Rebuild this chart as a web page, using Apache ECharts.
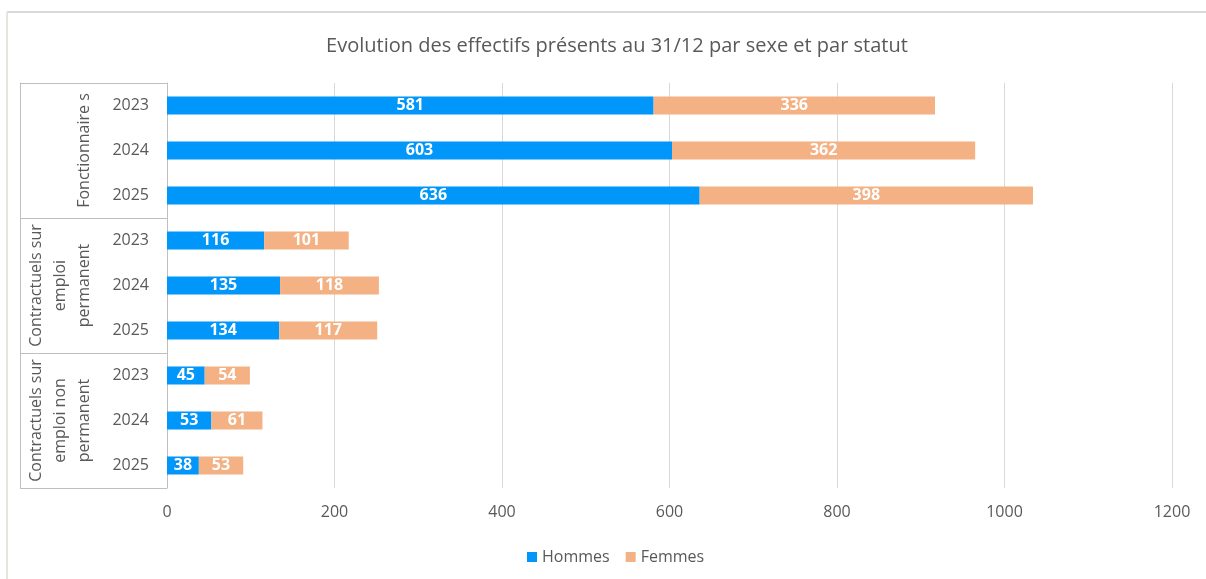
<!DOCTYPE html>
<html>
<head>
<meta charset="utf-8">
<script src="https://cdn.jsdelivr.net/npm/echarts@6/dist/echarts.min.js"></script>
<style>
  html, body { margin: 0; padding: 0; background: #fff; }
  #chart { width: 1206px; height: 579px; }
</style>
</head>
<body>
<div id="chart"></div>
<script>
const years = ['2023', '2024', '2025', '2023', '2024', '2025', '2023', '2024', '2025']
const groups = ['Fonctionnaire s', 'Contractuels sur\nemploi\npermanent', 'Contractuels sur\nemploi non\npermanent']
const hommes = [581, 603, 636, 116, 135, 134, 45, 53, 38]
const femmes = [336, 362, 398, 101, 118, 117, 54, 61, 53]

const grey = '#595959'
const font = 'Open Sans'

const chart = echarts.init(document.getElementById('chart'))
chart.setOption({
  textStyle: { fontFamily: font },
  title: {
    text: 'Evolution des effectifs présents au 31/12 par sexe et par statut',
    left: 612, top: 31, textAlign: 'center',
    textStyle: { fontSize: 20, fontWeight: 'normal', color: grey, fontFamily: font }
  },
  legend: {
    data: ['Hommes', 'Femmes'],
    bottom: 9, left: 522,
    icon: 'rect', itemWidth: 10, itemHeight: 10, itemGap: 16,
    textStyle: { fontSize: 16, color: grey, fontFamily: font }
  },
  grid: { left: 167, right: 34, top: 83, bottom: 91 },
  xAxis: {
    type: 'value', min: 0, max: 1200, interval: 200,
    axisLine: { show: false }, axisTick: { show: false },
    splitLine: { lineStyle: { color: '#d9d9d9' } },
    axisLabel: { fontSize: 16, color: grey, margin: 16, formatter: v => String(v) }
  },
  yAxis: [
    {
      type: 'category', data: years, inverse: true,
      axisLine: { lineStyle: { color: '#bfbfbf' } },
      axisTick: { show: false },
      axisLabel: { fontSize: 16, color: grey, margin: 18 }
    },
    {
      type: 'category', data: groups, inverse: true, position: 'left',
      axisLine: { show: false },
      axisTick: { show: true, interval: 0, length: 147, lineStyle: { color: '#bfbfbf' } },
      axisLabel: { rotate: 90, interval: 0, fontSize: 16, lineHeight: 24, color: grey, margin: 71, align: 'center' }
    },
    {
      type: 'category', data: groups, inverse: true, position: 'left', offset: 147,
      axisLine: { show: true, lineStyle: { color: '#bfbfbf' } },
      axisTick: { show: false }, axisLabel: { show: false }
    }
  ],
  series: [
    {
      name: 'Hommes', type: 'bar', stack: 'total', data: hommes, barWidth: 18,
      itemStyle: { color: '#0096fa' },
      label: { show: true, position: 'inside', color: '#fff', fontWeight: 'bold', fontSize: 16 }
    },
    {
      name: 'Femmes', type: 'bar', stack: 'total', data: femmes, barWidth: 18,
      itemStyle: { color: '#f4b183' },
      label: { show: true, position: 'inside', color: '#fff', fontWeight: 'bold', fontSize: 16 }
    }
  ],
  graphic: [
    { type: 'line', shape: { x1: 7, y1: 12, x2: 1206, y2: 12 }, style: { stroke: '#d9d9d9', lineWidth: 2 } },
    { type: 'line', shape: { x1: 7, y1: 12, x2: 7, y2: 579 }, style: { stroke: '#e6e6d6', lineWidth: 2 } }
  ]
})
</script>
</body>
</html>
